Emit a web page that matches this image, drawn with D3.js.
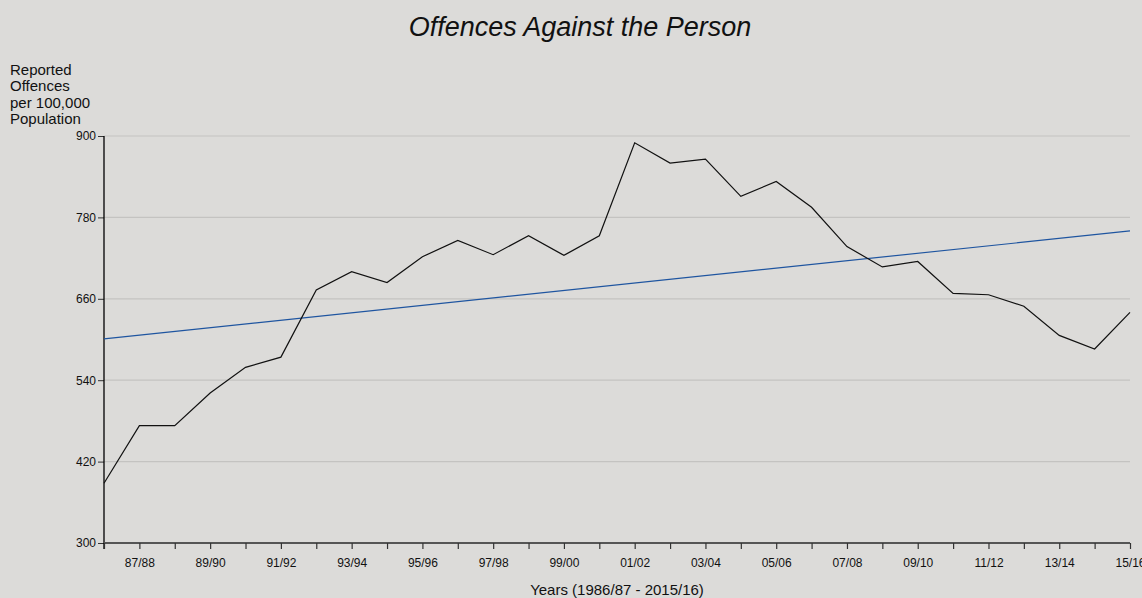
<!DOCTYPE html>
<html>
<head>
<meta charset="utf-8">
<script src="https://cdn.jsdelivr.net/npm/d3@7"></script>
<style>
  html, body { margin: 0; padding: 0; background: #dcdbd9; }
  svg { display: block; font-family: "Liberation Sans", Arial, sans-serif; }
</style>
</head>
<body>
<svg id="chart" width="1142" height="598"></svg>
<script>
// Financial years 1986/87 .. 2015/16
const years = [
  "86/87","87/88","88/89","89/90","90/91","91/92","92/93","93/94","94/95","95/96",
  "96/97","97/98","98/99","99/00","00/01","01/02","02/03","03/04","04/05","05/06",
  "06/07","07/08","08/09","09/10","10/11","11/12","12/13","13/14","14/15","15/16"
];
// Reported offences per 100,000 population
const offences = [
  388, 473, 473, 521, 559, 574, 673, 700, 684, 722,
  746, 725, 753, 724, 753, 890, 860, 866, 811, 833,
  795, 737, 707, 715, 668, 666, 649, 606, 586, 640
];
// Linear trend, value at first and last year
const trend = [601, 760];
const yTicks = [300, 420, 540, 660, 780, 900];

const svg = d3.select("#chart");
const margin = { left: 104, right: 1130, top: 136, bottom: 543 };

const x = d3.scalePoint().domain(years).range([margin.left, margin.right]);
const y = d3.scaleLinear().domain([300, 900]).range([margin.bottom, margin.top]);

// Horizontal gridlines
svg.append("g")
  .selectAll("line")
  .data(yTicks.filter(d => d > 300))
  .join("line")
  .attr("x1", margin.left).attr("x2", margin.right)
  .attr("y1", d => y(d)).attr("y2", d => y(d))
  .attr("stroke", "#c4c3c1").attr("stroke-width", 1.2);

// Y axis
const yAxis = svg.append("g")
  .attr("transform", `translate(${margin.left},0)`)
  .call(d3.axisLeft(y).tickValues(yTicks).tickSize(6).tickPadding(2));
yAxis.select(".domain").remove();
yAxis.append("line")
  .attr("x1", 0).attr("x2", 0)
  .attr("y1", margin.top).attr("y2", margin.bottom + 6)
  .attr("stroke", "#000").attr("stroke-width", 1.3);
yAxis.selectAll(".tick line").attr("stroke", "#333");
yAxis.selectAll("text").attr("font-size", 12).attr("fill", "#111");

// X axis, every year ticked, alternate years labelled
const xAxis = svg.append("g")
  .attr("transform", `translate(0,${margin.bottom})`)
  .call(d3.axisBottom(x).tickSize(6).tickPadding(9)
    .tickFormat((d, i) => (i % 2 === 1 ? d : "")));
xAxis.select(".domain")
  .attr("d", `M${margin.left},0H${margin.right}`)
  .attr("stroke", "#555").attr("stroke-width", 2);
xAxis.selectAll(".tick line").attr("stroke", "#333").attr("stroke-width", 1.2);
xAxis.selectAll("text").attr("font-size", 12).attr("fill", "#111");

// Trend line
svg.append("line")
  .attr("x1", x(years[0])).attr("y1", y(trend[0]))
  .attr("x2", x(years[years.length - 1])).attr("y2", y(trend[1]))
  .attr("stroke", "#1f55a0").attr("stroke-width", 1.2);

// Offences series
svg.append("path")
  .datum(offences)
  .attr("fill", "none")
  .attr("stroke", "#111")
  .attr("stroke-width", 1.2)
  .attr("d", d3.line().x((d, i) => x(years[i])).y(d => y(d)));

// Title
svg.append("text")
  .attr("x", 580).attr("y", 36)
  .attr("text-anchor", "middle")
  .attr("font-size", 27).attr("font-style", "italic")
  .attr("fill", "#111")
  .text("Offences Against the Person");

// Y axis title
const yTitle = ["Reported", "Offences", "per 100,000", "Population"];
svg.append("text")
  .attr("x", 10).attr("y", 75)
  .attr("font-size", 15).attr("fill", "#111")
  .selectAll("tspan")
  .data(yTitle)
  .join("tspan")
  .attr("x", 10)
  .attr("dy", (d, i) => (i === 0 ? 0 : 16.3))
  .text(d => d);

// X axis title
svg.append("text")
  .attr("x", 617).attr("y", 595)
  .attr("text-anchor", "middle")
  .attr("font-size", 15).attr("fill", "#111")
  .text("Years (1986/87 - 2015/16)");
</script>
</body>
</html>
